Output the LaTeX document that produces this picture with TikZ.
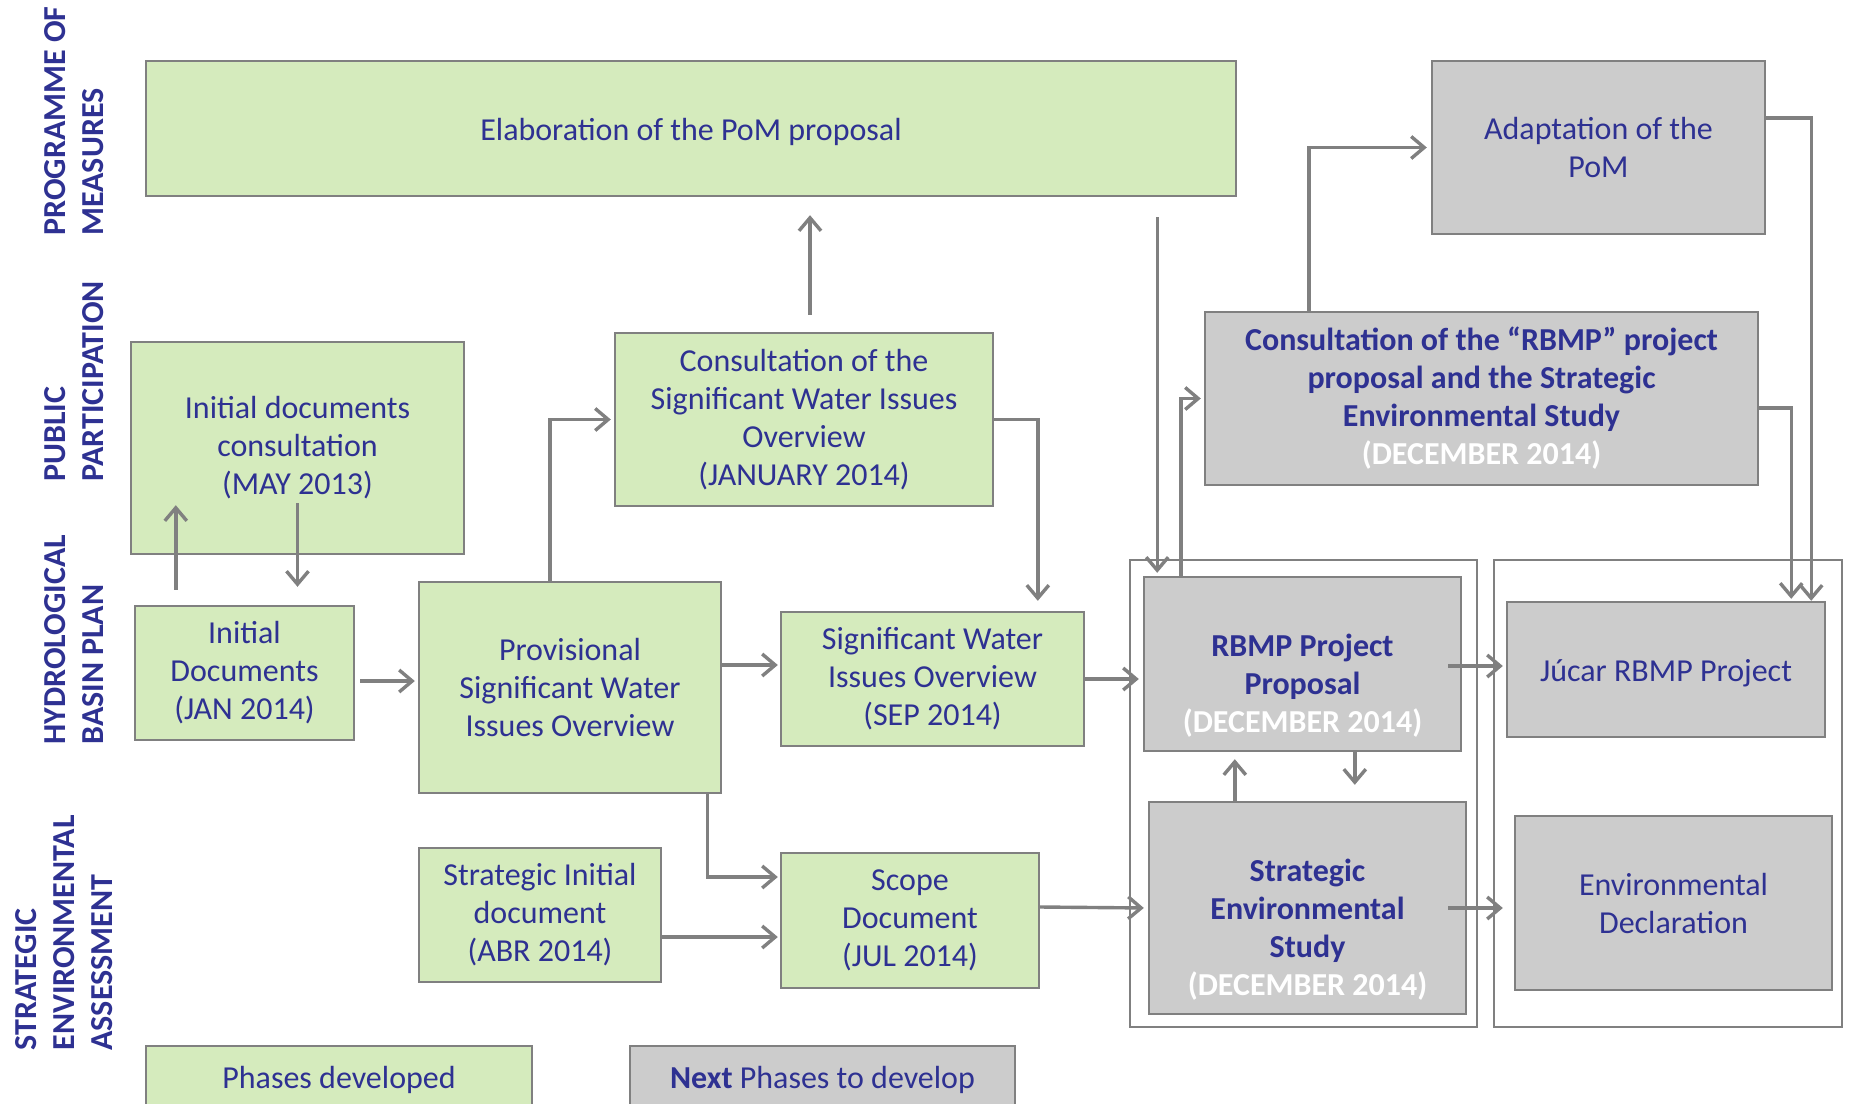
\documentclass[tikz,border=0pt]{standalone}
\usepackage{fontspec}
\setmainfont{Carlito}
\usepackage{xcolor}
\usetikzlibrary{arrows.meta,calc}

\definecolor{donegreen}{HTML}{D5EBBD}
\definecolor{nextgrey}{HTML}{CCCCCC}
\definecolor{edgegrey}{HTML}{808080}
\definecolor{labelblue}{HTML}{2E3192}

\begin{document}
\begin{tikzpicture}[x=0.5pt,y=-0.5pt,
  box/.style={draw=edgegrey,line width=1.2pt,text=labelblue,align=center,
    font=\fontsize{16}{19}\selectfont,inner sep=2pt,
    execute at begin node={\rule{0pt}{14.5pt}}},
  done/.style={box,fill=donegreen},
  todo/.style={box,fill=nextgrey},
  todob/.style={todo,font=\fontsize{16}{19}\selectfont\bfseries},
  arr/.style={draw=edgegrey,line width=1.7pt,-{Straight Barb[length=6.5pt,width=11pt]}},
  frame/.style={draw=edgegrey,line width=1.3pt},
  lane/.style={rotate=90,anchor=west,align=left,text=labelblue,inner sep=0pt,
    font=\fontsize{16}{19}\selectfont\bfseries}]

  \useasboundingbox[fill=white] (0,0) rectangle (1851,1103);

  % Lane titles
  \node[lane] (lpom) at (74,236) {PROGRAMME OF\\MEASURES};
  \node[lane] (lpart) at (74,482) {PUBLIC\\PARTICIPATION};
  \node[lane] (lplan) at (74,745) {HYDROLOGICAL\\BASIN PLAN};
  \node[lane] (lsea) at (64,1051) {STRATEGIC\\ENVIRONMENTAL\\ASSESSMENT};

  % Outlines round the next phases
  \draw[frame] (1130,560) rectangle (1477,1027);
  \draw[frame] (1494,560) rectangle (1842,1027);

  % Programme of measures
  \node[done,minimum width=545pt,minimum height=67.5pt] (pom) at (691,128.5)
    {Elaboration of the PoM proposal};
  \node[todo,minimum width=166.5pt,minimum height=86.5pt] (adapt) at (1598.5,147.5)
    {Adaptation of the\\PoM};

  % Public participation
  \node[done,minimum width=166.5pt,minimum height=106pt] (initcons) at (297.5,448)
    {Initial documents\\consultation\\(MAY 2013)};
  \node[done,minimum width=189pt,minimum height=86.5pt] (conswio) at (804,419.5)
    {Consultation of the\\Significant Water Issues\\Overview\\(JANUARY 2014)};
  \node[todob,minimum width=276.5pt,minimum height=86.5pt] (consrbmp) at (1481.5,398.5)
    {Consultation of the “RBMP” project\\proposal and the Strategic\\Environmental Study\\
     \textcolor{white}{(DECEMBER 2014)}};

  % Hydrological basin plan
  \node[done,minimum width=109.5pt,minimum height=67pt] (initdocs) at (244.5,673)
    {Initial\\Documents\\(JAN 2014)};
  \node[done,minimum width=151pt,minimum height=105.5pt] (provswio) at (570,687.5)
    {Provisional\\Significant Water\\Issues Overview};
  \node[done,minimum width=151.5pt,minimum height=67pt] (swio) at (932.5,679)
    {Significant Water\\Issues Overview\\(SEP 2014)};
  \node[todob,minimum width=158.5pt,minimum height=87pt] (rbmpprop) at (1302.5,664)
    {\rule{0pt}{14pt}\\RBMP Project\\Proposal\\\textcolor{white}{(DECEMBER 2014)}};
  \node[todo,minimum width=159pt,minimum height=67.5pt] (jucar) at (1666,669.5)
    {Júcar RBMP Project};

  % Strategic environmental assessment
  \node[done,minimum width=121pt,minimum height=67pt] (stratinit) at (540,915)
    {Strategic Initial\\document\\(ABR 2014)};
  \node[done,minimum width=129pt,minimum height=67.5pt] (scope) at (910,920.5)
    {Scope\\Document\\(JUL 2014)};
  \node[todob,minimum width=158.5pt,minimum height=106pt] (ses) at (1307.5,908)
    {\rule{0pt}{14pt}\\Strategic\\Environmental\\Study\\\textcolor{white}{(DECEMBER 2014)}};
  \node[todo,minimum width=158.5pt,minimum height=87pt] (envdecl) at (1673.5,903)
    {Environmental\\Declaration};

  % Legend
  \node[done,minimum width=193pt,minimum height=31pt] (ldone) at (339,1077)
    {Phases developed};
  \node[todo,minimum width=192.5pt,minimum height=31pt] (lnext) at (822.5,1077)
    {\textbf{Next} Phases to develop};

  % Free ends of the connectors
  \coordinate (a1) at ($(initdocs.north west)+(21pt,7.5pt)$);
  \coordinate (a2) at ($(initcons.south)+(0pt,26pt)$);
  \coordinate (b1) at ($(initdocs.east)+(2.5pt,-4pt)$);
  \coordinate (d1) at ($(conswio.north)+(3pt,8.5pt)$);
  \coordinate (f1) at ($(swio.west)+(0pt,7pt)$);
  \coordinate (h1) at ($(stratinit.east)+(0pt,-11pt)$);
  \coordinate (k1) at ($(pom.south east)+(-40pt,-10pt)$);
  \coordinate (p1) at ($(rbmpprop.east)+(-7pt,-1pt)$);
  \coordinate (q1) at ($(ses.east)+(-9.5pt,0pt)$);
  \coordinate (r1) at ($(ses.north west)+(43.5pt,0pt)$);
  \coordinate (s1) at ($(rbmpprop.south west)+(106pt,0pt)$);

  % Connectors
  \draw[arr] (a1) -- ($(a1 |- initcons.south)+(0pt,25pt)$);
  \draw[arr,shorten >=9pt] (a2) -- (a2 |- initdocs.north);
  \draw[arr,shorten >=1.5pt] (b1) -- (b1 -| provswio.west);
  \draw[arr,shorten >=1.5pt] ($(provswio.north west)+(66pt,0pt)$) |- (conswio.west);
  \draw[arr,shorten >=9pt] (d1) -- (d1 |- pom.south);
  \draw[arr] (conswio.east) -| ($(swio.north west)+(129pt,5pt)$);
  \draw[arr,shorten >=1pt] (f1 -| provswio.east) -- (f1);
  \draw[arr,shorten >=1pt] ($(provswio.south east)+(-7.5pt,0pt)$) |- ($(scope.west)+(0pt,21.75pt)$);
  \draw[arr,shorten >=1pt] (h1) -- (h1 -| scope.west);
  \draw[arr,shorten >=2pt] (swio.east) -- (swio.east -| rbmpprop.west);
  \draw[arr,shorten >=2pt] ($(scope.east)+(0pt,6.75pt)$) -- (ses.west);
  \draw[arr,shorten >=1.5pt] (k1) -- (k1 |- rbmpprop.north);
  \draw[arr,shorten >=1.5pt] ($(rbmpprop.north west)+(19pt,0pt)$) |- (consrbmp.west);
  \draw[arr,shorten >=2pt] ($(consrbmp.north west)+(52.5pt,0pt)$) |- (adapt.west);
  \draw[arr] ($(adapt.east)+(0pt,14.75pt)$) -| ($(jucar.north east)+(-7.5pt,0pt)$);
  \draw[arr,shorten >=1pt] ($(consrbmp.east)+(0pt,-4.75pt)$) -| ($(jucar.north east)+(-17.5pt,0pt)$);
  \draw[arr,shorten >=1.5pt] (p1) -- (p1 -| jucar.west);
  \draw[arr,shorten >=5.5pt] (q1) -- (q1 -| envdecl.west);
  \draw[arr,shorten >=3.5pt] (r1) -- (r1 |- rbmpprop.south);
  \draw[arr,shorten >=8pt] (s1) -- (s1 |- ses.north);

\end{tikzpicture}
\end{document}
